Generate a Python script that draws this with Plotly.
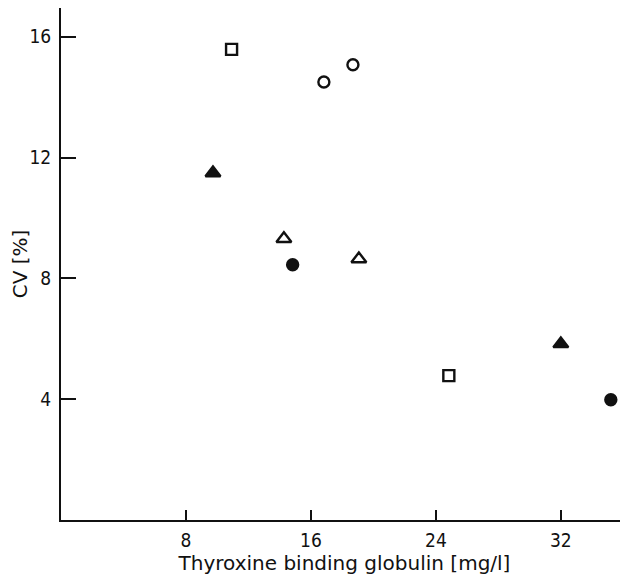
import plotly.graph_objects as go

# Data
sq_x = [10.92, 24.83]
sq_y = [15.58, 4.78]
oc_x = [16.83, 18.69]
oc_y = [14.50, 15.07]
ftri_x = [9.73, 32.0]
ftri_y = [11.49, 5.83]
otri_x = [14.27, 19.07]
otri_y = [9.31, 8.64]
fc_x = [14.83, 35.2]
fc_y = [8.45, 3.98]

x_ticks = [8, 16, 24, 32]
y_ticks = [4, 8, 12, 16]

TICK_FONT = "DejaVu Sans Condensed"
TITLE_FONT = "DejaVu Sans"
BLACK = "#111111"

fig = go.Figure()

def add(xs, ys, symbol, size, filled):
    fig.add_trace(go.Scatter(
        x=xs, y=ys, mode="markers",
        marker=dict(symbol=symbol, size=size,
                    color=BLACK if filled else "white",
                    line=dict(color=BLACK, width=2.4)),
        showlegend=False, cliponaxis=False,
    ))

add(sq_x, sq_y, "square", 11, False)
add(oc_x, oc_y, "circle", 11, False)
add(ftri_x, ftri_y, "triangle-up", 13, True)
add(otri_x, otri_y, "triangle-up", 13, False)
add(fc_x, fc_y, "circle", 11, True)

# page body has an 8px margin, so the figure is shifted by (8, 8)
fig.update_layout(
    width=620, height=569,
    margin=dict(l=53, r=0, t=0, b=57),
    plot_bgcolor="white", paper_bgcolor="white",
    font=dict(family=TICK_FONT, size=18, color=BLACK),
    xaxis=dict(
        range=[0, 36.3], tickvals=x_ticks, ticks="inside", ticklen=10,
        tickwidth=2, tickcolor=BLACK, showline=True, linecolor=BLACK,
        linewidth=2, showgrid=False, zeroline=False,
        title=dict(text="Thyroxine binding globulin [mg/l]", standoff=0,
                   font=dict(size=20, family=TITLE_FONT)),
        tickfont=dict(size=19), ticklabelstandoff=2,
    ),
    yaxis=dict(
        range=[0, 16.95], tickvals=y_ticks, ticks="inside", ticklen=15,
        tickwidth=2, tickcolor=BLACK, showline=True, linecolor=BLACK,
        linewidth=2, showgrid=False, zeroline=False,
        title=dict(text="CV [%]", standoff=6,
                   font=dict(size=20, family=TITLE_FONT)),
        tickfont=dict(size=19), ticklabelstandoff=4,
    ),
)

fig.write_html("out.html")
